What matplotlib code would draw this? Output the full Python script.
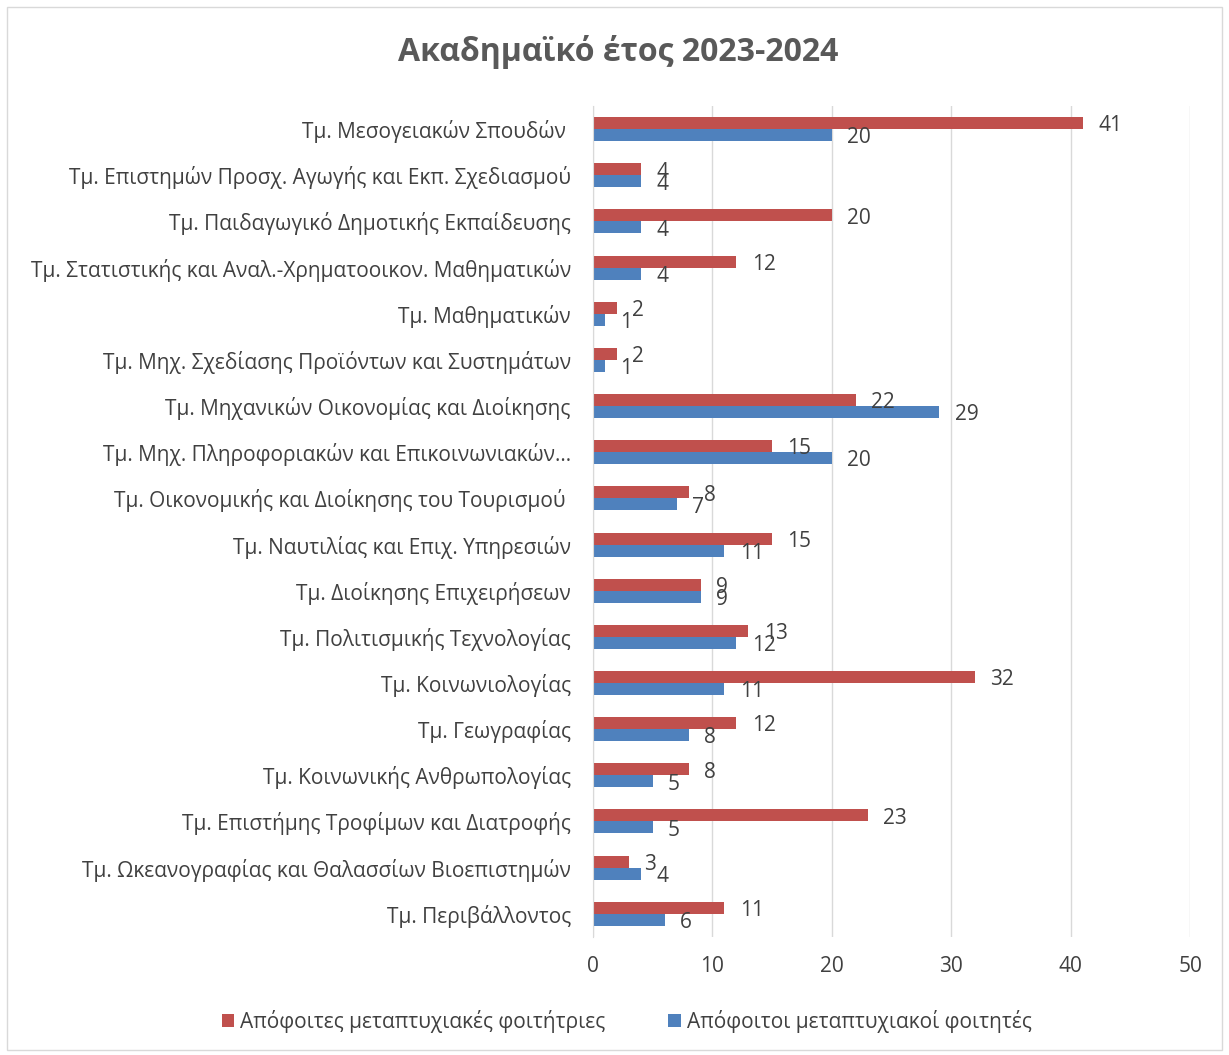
import numpy as np
import matplotlib.pyplot as plt
from matplotlib.patches import Rectangle

plt.rcParams['font.family'] = ['Open Sans', 'DejaVu Sans']

# rst Data
departments = [
    "Τμ. Μεσογειακών Σπουδών ",
    "Τμ. Επιστημών Προσχ. Αγωγής και Εκπ. Σχεδιασμού",
    "Τμ. Παιδαγωγικό Δημοτικής Εκπαίδευσης",
    "Τμ. Στατιστικής και Αναλ.-Χρηματοοικον. Μαθηματικών",
    "Τμ. Μαθηματικών",
    "Τμ. Μηχ. Σχεδίασης Προϊόντων και Συστημάτων",
    "Τμ. Μηχανικών Οικονομίας και Διοίκησης",
    "Τμ. Μηχ. Πληροφοριακών και Επικοινωνιακών…",
    "Τμ. Οικονομικής και Διοίκησης του Τουρισμού ",
    "Τμ. Ναυτιλίας και Επιχ. Υπηρεσιών",
    "Τμ. Διοίκησης Επιχειρήσεων",
    "Τμ. Πολιτισμικής Τεχνολογίας",
    "Τμ. Κοινωνιολογίας",
    "Τμ. Γεωγραφίας",
    "Τμ. Κοινωνικής Ανθρωπολογίας",
    "Τμ. Επιστήμης Τροφίμων και Διατροφής",
    "Τμ. Ωκεανογραφίας και Θαλασσίων Βιοεπιστημών",
    "Τμ. Περιβάλλοντος",
]
female = [41, 4, 20, 12, 2, 2, 22, 15, 8, 15, 9, 13, 32, 12, 8, 23, 3, 11]
male = [20, 4, 4, 4, 1, 1, 29, 20, 7, 11, 9, 12, 11, 8, 5, 5, 4, 6]
female_label = "Απόφοιτες μεταπτυχιακές φοιτήτριες"
male_label = "Απόφοιτοι μεταπτυχιακοί φοιτητές"
title = "Ακαδημαϊκό έτος 2023-2024"

red = "#C0504D"
blue = "#4F81BD"
text_col = "#404040"

# rst Plot
fig = plt.figure(figsize=(12.29, 10.55), dpi=100)
ax = fig.add_axes([0.4825, 0.112, 0.486, 0.7875])
fig.patches.append(Rectangle((0.006, 0.005), 0.988, 0.988, transform=fig.transFigure,
                             fill=False, edgecolor="#d9d9d9", linewidth=1))

y = np.arange(len(departments))
h = 0.26
ax.barh(y - h / 2, female, height=h, color=red, label=female_label)
ax.barh(y + h / 2, male, height=h, color=blue, label=male_label)

# value labels just past the bar ends (they overlap for short bars, as in the original)
for yi, f, m in zip(y, female, male):
    ax.annotate(str(f), (f, yi - h / 2), xytext=(11, -2), textcoords="offset points",
                va="center", ha="left", fontsize=15, color=text_col)
    ax.annotate(str(m), (m, yi + h / 2), xytext=(11, -2), textcoords="offset points",
                va="center", ha="left", fontsize=15, color=text_col)

ax.set_ylim(len(departments) - 0.5, -0.5)
ax.set_xlim(0, 50)
ax.set_xticks(np.arange(0, 51, 10))
ax.set_yticks(y)
ax.set_yticklabels(departments)
ax.tick_params(axis="both", length=0, labelsize=15, labelcolor=text_col)
ax.tick_params(axis="x", pad=14)
ax.tick_params(axis="y", pad=16)
ax.grid(axis="x", color="#d9d9d9", linewidth=1)
ax.set_axisbelow(True)
for s in ["top", "right", "bottom"]:
    ax.spines[s].set_visible(False)
ax.spines["left"].set_color("#d9d9d9")

fig.suptitle(title, x=0.503, y=0.967, fontsize=23, fontweight="bold", color="#595959")

fig.legend(loc="center", bbox_to_anchor=(0.51, 0.032), ncol=2, frameon=False,
           fontsize=15, labelcolor=text_col, handlelength=0.6, handleheight=0.6,
           handletextpad=0.3, columnspacing=3.0)

fig.savefig("out.png")
